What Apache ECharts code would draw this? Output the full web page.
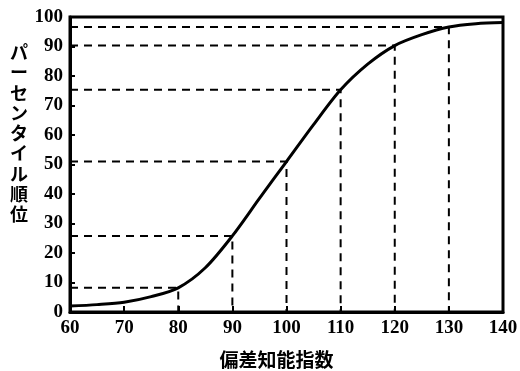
<!DOCTYPE html>
<html>
<head>
<meta charset="utf-8">
<script src="https://cdn.jsdelivr.net/npm/echarts@6/dist/echarts.min.js"></script>
<style>html,body{margin:0;padding:0;background:#fff}#c{width:520px;height:371px}</style>
</head>
<body>
<div id="c"></div>
<script>
var iqValues = [60, 65, 70, 75, 80, 85, 90, 95, 100, 105, 110, 115, 120, 125, 130, 135, 140];
var percentileValues = [2, 2.5, 3.3, 5.2, 8.2, 15, 25.8, 38.5, 51, 63.5, 75.3, 84, 90.3, 94, 96.6, 97.7, 98.1];
var guideX = [80, 90, 100, 110, 120, 130];
var guideY = [8.2, 25.8, 51, 75.3, 90.3, 96.6];
var xAxisName = '偏差知能指数';
var yAxisName = 'パーセンタイル順位';

var serif = 'Liberation Serif';
var cjk = 'Noto Sans CJK JP';
var series = [];
guideX.forEach(function (gx, i) {
  series.push({
    type: 'line', symbol: 'none', silent: true, z: 1,
    lineStyle: { color: '#000', width: 2, type: [8, 6] },
    data: [[60, guideY[i]], [gx, guideY[i]], [gx, 0]]
  });
});
series.push({
  type: 'line', symbol: 'none', smooth: 0.3, z: 3,
  lineStyle: { color: '#000', width: 3 },
  data: iqValues.map(function (x, i) { return [x, percentileValues[i]]; })
});

var chart = echarts.init(document.getElementById('c'));
chart.setOption({
  animation: false,
  backgroundColor: '#fff',
  grid: { left: 70, right: 17, top: 17, bottom: 59, show: true, borderColor: '#000', borderWidth: 3, containLabel: false, outerBoundsMode: 'none' },
  graphic: [{
    type: 'text', left: 10, top: 42, silent: true,
    style: { text: yAxisName.split('').join('\n'), font: 'bold 18px "' + cjk + '"', lineHeight: 20.3, fill: '#000', align: 'left' }
  }],
  xAxis: {
    type: 'value', min: 60, max: 140, interval: 10,
    name: xAxisName, nameLocation: 'middle', nameGap: 38,
    nameTextStyle: { fontFamily: cjk, fontWeight: 'bold', fontSize: 19, color: '#000', padding: [0, 20, 0, 0] },
    axisLine: { lineStyle: { color: '#000', width: 3 } },
    axisTick: { inside: true, length: 6, lineStyle: { color: '#000', width: 2 } },
    axisLabel: { fontFamily: serif, fontWeight: 'bold', fontSize: 19, color: '#000', margin: 7 },
    splitLine: { show: false }
  },
  yAxis: {
    type: 'value', min: 0, max: 100, interval: 10,
    axisLine: { lineStyle: { color: '#000', width: 3 } },
    axisTick: { inside: true, length: 5, lineStyle: { color: '#000', width: 2 } },
    axisLabel: { fontFamily: serif, fontWeight: 'bold', fontSize: 19, color: '#000', margin: 7 },
    splitLine: { show: false }
  },
  series: series
});
</script>
</body>
</html>
